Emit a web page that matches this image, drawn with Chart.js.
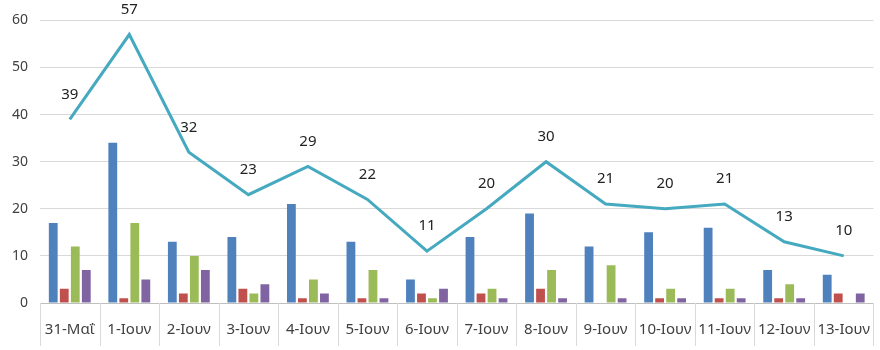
<!DOCTYPE html>
<html>
<head>
<meta charset="utf-8">
<script src="https://cdn.jsdelivr.net/npm/chart.js@4/dist/chart.umd.min.js"></script>
<style>
  html, body { margin: 0; padding: 0; background: #fff; }
  #wrap { width: 880px; height: 350px; }
</style>
</head>
<body>
<div id="wrap"><canvas id="chart"></canvas></div>
<script>
const labels = ['31-Μαΐ', '1-Ιουν', '2-Ιουν', '3-Ιουν', '4-Ιουν', '5-Ιουν', '6-Ιουν',
  '7-Ιουν', '8-Ιουν', '9-Ιουν', '10-Ιουν', '11-Ιουν', '12-Ιουν', '13-Ιουν'];
const seriesA = [17, 34, 13, 14, 21, 13, 5, 14, 19, 12, 15, 16, 7, 6];
const seriesB = [3, 1, 2, 3, 1, 1, 2, 2, 3, 0, 1, 1, 1, 2];
const seriesC = [12, 17, 10, 2, 5, 7, 1, 3, 7, 8, 3, 3, 4, 0];
const seriesD = [7, 5, 7, 4, 2, 1, 3, 1, 1, 1, 1, 1, 1, 2];
const totals = [39, 57, 32, 23, 29, 22, 11, 20, 30, 21, 20, 21, 13, 10];
const yTicks = [0, 10, 20, 30, 40, 50, 60];

const FONT = 'Noto Sans';

// numbers above each point of the line
const lineLabels = {
  id: 'lineLabels',
  afterDatasetsDraw(chart) {
    const ctx = chart.ctx;
    const meta = chart.getDatasetMeta(0);
    ctx.save();
    ctx.font = '15px ' + FONT;
    ctx.fillStyle = '#222';
    ctx.textAlign = 'center';
    ctx.textBaseline = 'middle';
    meta.data.forEach((pt, i) => {
      ctx.fillText(String(totals[i]), pt.x, pt.y - 25);
    });
    ctx.restore();
  }
};

// vertical separators between category labels
const catDividers = {
  id: 'catDividers',
  afterDraw(chart) {
    const ctx = chart.ctx;
    const x = chart.scales.x;
    const area = chart.chartArea;
    const step = x.getPixelForValue(1) - x.getPixelForValue(0);
    ctx.save();
    ctx.strokeStyle = '#d9d9d9';
    ctx.lineWidth = 1;
    for (let i = 0; i <= labels.length; i++) {
      const px = Math.round(x.getPixelForValue(i) - step / 2) + 0.5;
      ctx.beginPath();
      ctx.moveTo(px, area.bottom);
      ctx.lineTo(px, chart.height - 4);
      ctx.stroke();
    }
    ctx.restore();
  }
};

new Chart(document.getElementById('chart'), {
  data: {
    labels: labels,
    datasets: [
      {
        type: 'line',
        data: totals,
        borderColor: '#45a9c0',
        borderWidth: 3,
        pointRadius: 0,
        tension: 0,
        order: 0
      },
      { type: 'bar', data: seriesA, backgroundColor: '#4f81bd', order: 1 },
      { type: 'bar', data: seriesB, backgroundColor: '#c0504d', order: 1 },
      { type: 'bar', data: seriesC, backgroundColor: '#9bbb59', order: 1 },
      { type: 'bar', data: seriesD, backgroundColor: '#8064a2', order: 1 }
    ]
  },
  options: {
    responsive: true,
    maintainAspectRatio: false,
    animation: false,
    datasets: {
      bar: { categoryPercentage: 0.74, barPercentage: 0.8 }
    },
    layout: { autoPadding: false, padding: { top: 19, right: 0, left: 0, bottom: 0 } },
    plugins: {
      legend: { display: false },
      tooltip: { enabled: false }
    },
    scales: {
      x: {
        offset: true,
        afterFit(scale) { scale.height = 47; },
        grid: { display: false },
        border: { display: true, color: '#bfbfbf' },
        ticks: {
          autoSkip: false,
          maxRotation: 0,
          minRotation: 0,
          padding: 10,
          color: '#404040',
          font: { family: FONT, size: 15 }
        }
      },
      y: {
        min: 0,
        max: 60,
        afterFit(scale) { scale.width = 40; },
        afterBuildTicks(scale) {
          scale.ticks = yTicks.map(v => ({ value: v }));
        },
        grid: { color: '#d9d9d9', drawTicks: false },
        border: { display: false },
        ticks: {
          padding: 12,
          color: '#404040',
          font: { family: FONT, size: 14 }
        }
      }
    }
  },
  plugins: [lineLabels, catDividers]
});
</script>
</body>
</html>
